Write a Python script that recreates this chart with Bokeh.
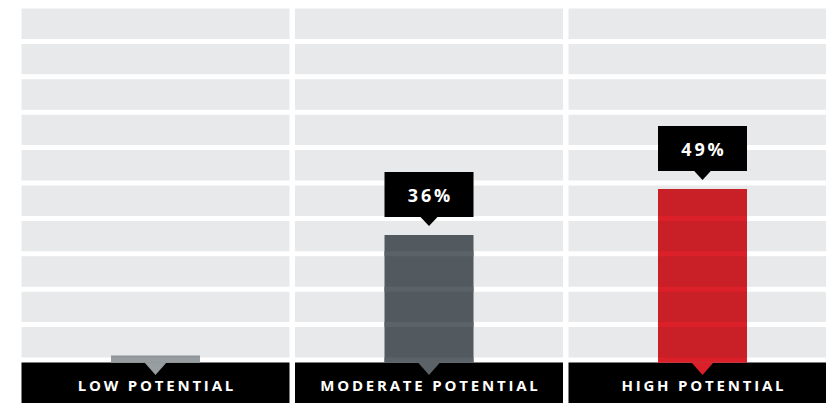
from bokeh.plotting import figure
from bokeh.models import Range1d, InlineStyleSheet
from bokeh.embed import file_html
from bokeh.resources import INLINE
from bokeh.core.properties import value

# ---- data ----
categories = ["LOW POTENTIAL", "MODERATE POTENTIAL", "HIGH POTENTIAL"]
percent = [2, 36, 49]
value_labels = ["", "36%", "49%"]
grid_levels = [0, 10, 20, 30, 40, 50, 60, 70, 80, 90, 100]

# ---- styles ----
bar_colors = ["#8e9598", "#525a60", "#c91f26"]
stripe_colors = ["#979da0", "#5b6369", "#dc2029"]
row_color = "#e8e9eb"
band_color = "#000000"
LS = 2.8       # letter spacing, px

PX_X = 273.5   # pixels per panel unit
PX_Y = 3.54    # pixels per percent
gap = 5 / PX_Y
panel_hw = 134 / PX_X
bar_hw = 44.5 / PX_X

W, H = 826, 403
x0 = -155 / PX_X
x1 = x0 + W / PX_X
y_top = 100 + 8 / PX_Y
y_bot = y_top - H / PX_Y

p = figure(width=W, height=H, output_backend="svg", toolbar_location=None,
           x_range=Range1d(x0, x1), y_range=Range1d(y_bot, y_top),
           x_axis_location=None, y_axis_location=None, min_border=0)
p.outline_line_color = None
p.xgrid.visible = False
p.ygrid.visible = False
p.background_fill_color = "white"
p.border_fill_color = "white"
p.stylesheets = [InlineStyleSheet(css=':host { letter-spacing: %.1fpx; }' % LS)]

n = len(categories)

# grid rows
L, R, B, T = [], [], [], []
for i in range(n):
    for k in range(len(grid_levels) - 1):
        L.append(i - panel_hw)
        R.append(i + panel_hw)
        B.append(grid_levels[k] + gap)
        T.append(grid_levels[k + 1])
p.quad(left=L, right=R, bottom=B, top=T, fill_color=row_color, line_color=None)

# black label band
p.quad(left=[i - panel_hw for i in range(n)], right=[i + panel_hw for i in range(n)],
       bottom=[y_bot - 5] * n, top=[0] * n, fill_color=band_color, line_color=None)

# bars
p.quad(left=[i - bar_hw for i in range(n)], right=[i + bar_hw for i in range(n)],
       bottom=[0] * n, top=percent, fill_color=bar_colors, line_color=None)

# lighter stripes where bars cross the white gaps
sL, sR, sB, sT, sC = [], [], [], [], []
for i in range(n):
    for k in range(len(grid_levels) - 1):
        lo = grid_levels[k]
        if lo < percent[i]:
            sL.append(i - bar_hw)
            sR.append(i + bar_hw)
            sB.append(lo)
            sT.append(min(lo + gap, percent[i]))
            sC.append(stripe_colors[i])
p.quad(left=sL, right=sR, bottom=sB, top=sT, fill_color=sC, line_color=None)

# pointers on the band
thw = 11 / PX_X
th = 12.5 / PX_Y
p.patches(xs=[[i - thw, i + thw, i] for i in range(n)],
          ys=[[0.02, 0.02, -th] for i in range(n)],
          fill_color=stripe_colors, line_color=None)

# callouts
box_b = 18 / PX_Y
box_h = 45 / PX_Y
tip = 9 / PX_Y
phw = 8.5 / PX_X
cb_l, cb_r, cb_b, cb_t, cx, cy, ct, cxo, pxs, pys = [], [], [], [], [], [], [], [], [], []
for i in range(n):
    if value_labels[i]:
        v = percent[i]
        cb_l.append(i - bar_hw)
        cb_r.append(i + bar_hw)
        cb_b.append(v + box_b)
        cb_t.append(v + box_b + box_h)
        cx.append(i)
        cy.append(v + box_b + box_h / 2)
        ct.append(value_labels[i])
        cxo.append(-(len(value_labels[i]) - 1) * LS / 2)
        pxs.append([i - phw, i + phw, i])
        pys.append([v + box_b + 0.05, v + box_b + 0.05, v + tip])
p.quad(left=cb_l, right=cb_r, bottom=cb_b, top=cb_t, fill_color="black", line_color=None)
p.patches(xs=pxs, ys=pys, fill_color="black", line_color=None)
p.text(x=cx, y=cy, text=ct, x_offset=cxo, text_color="white", text_font=value("Open Sans"),
       text_font_style="bold", text_font_size="18px", text_align="center",
       text_baseline="middle")

# category labels
p.text(x=list(range(n)), y=[-22 / PX_Y] * n, text=categories,
       x_offset=[-(len(s) - 1) * LS / 2 for s in categories], text_color="white",
       text_font=value("Open Sans"), text_font_style="bold", text_font_size="15px",
       text_align="center", text_baseline="middle")

open("out.html", "w").write(file_html(p, INLINE))
